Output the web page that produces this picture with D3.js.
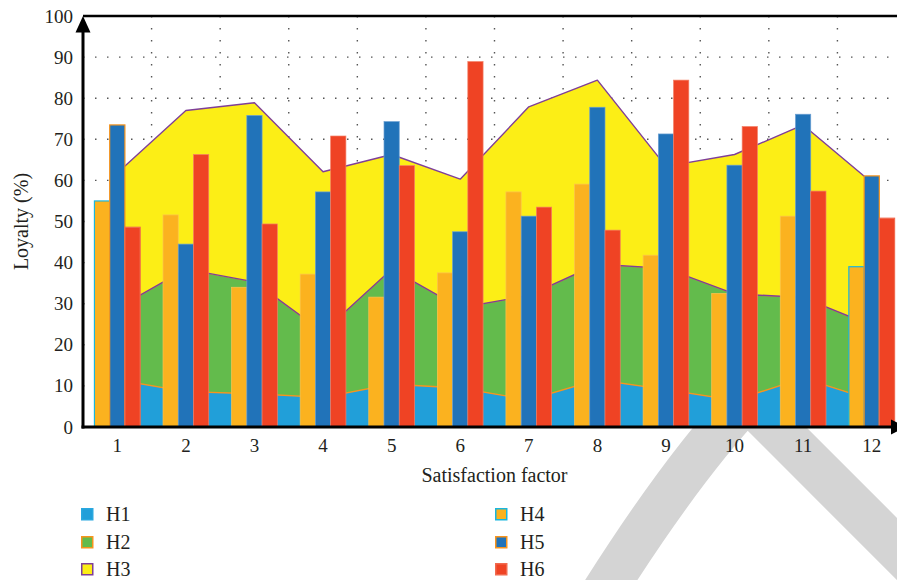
<!DOCTYPE html>
<html><head><meta charset="utf-8">
<script src="https://cdn.jsdelivr.net/npm/d3@7"></script>
<style>
html,body{margin:0;padding:0;background:#fff;}
svg{display:block;}
text{font-family:"Liberation Serif","Times New Roman",serif;fill:#231f20;}
</style>
</head><body>
<svg id="chart" width="897" height="580"></svg>
<script>
// ---------- data ----------
const categories = ["1","2","3","4","5","6","7","8","9","10","11","12"];
const areaSeries = ["H1","H2","H3"];
const barSeries = ["H4","H5","H6"];
const h1 = [11.5, 8.6, 8.1, 7.2, 10.4, 9.5, 6.6, 11.5, 9.1, 6.5, 11.9, 6.6];
const h2 = [17.4, 29.8, 27.2, 15.9, 28.0, 19.5, 25.4, 28.1, 29.5, 25.9, 19.6, 18.1];
const h3 = [32.9, 38.6, 43.6, 39.0, 27.9, 31.3, 45.9, 44.8, 24.8, 33.9, 42.0, 34.8];
const h4 = [55.0, 51.6, 34.0, 37.2, 31.6, 37.5, 57.2, 59.1, 41.8, 32.5, 51.3, 39.0];
const h5 = [73.5, 44.5, 75.8, 57.2, 74.3, 47.5, 51.3, 77.8, 71.3, 63.7, 76.1, 61.1];
const h6 = [48.6, 66.3, 49.4, 70.8, 63.6, 88.9, 53.5, 47.9, 84.4, 73.1, 57.4, 50.8];
const yTickValues = [0,10,20,30,40,50,60,70,80,90,100];
const xTitle = "Satisfaction factor";
const yTitle = "Loyalty (%)";

// ---------- styles ----------
const fills = {H1:"#219fd9", H2:"#63bb4c", H3:"#fcee16", H4:"#fbb21f", H5:"#2173b9", H6:"#ef4324"};
const edges = {H1:"#2aa8df", H2:"#f7941d", H3:"#7f3f98", H4:"#19b6de", H5:"#f7941d", H6:"#f16a4f"};
const softEdges = {H4:"#fcc350", H5:"#6a9fd2", H6:"#f47e64"};

const svg = d3.select("#chart");
const L = 83, R = 906, T = 16, B = 427;

const x = d3.scaleBand().domain(categories).range([L, R]).paddingInner(0).paddingOuter(0);
const bw = x.bandwidth();
const cx = c => x(c) + bw / 2;
const y = d3.scaleLinear().domain([0, 100]).range([B, T]);
const inner = d3.scaleBand().domain(barSeries).range([0, bw * 2 / 3]).padding(0);

// watermark (decorative)
svg.append("path")
  .attr("d", "M596,604 Q680,470 747,399 L962,614")
  .attr("fill", "none").attr("stroke", "#d4d4d4").attr("stroke-width", 44)
  .attr("stroke-linejoin", "miter");

// plot background
svg.append("rect").attr("x", L).attr("y", T).attr("width", R - L).attr("height", B - T).attr("fill", "#fff");

// grid
const grid = svg.append("g");
grid.selectAll("line.h").data(yTickValues.filter(v => v > 0 && v < 100)).join("line")
  .attr("x1", L).attr("x2", R).attr("y1", d => y(d)).attr("y2", d => y(d))
  .attr("stroke", "#555").attr("stroke-width", 1.4).attr("stroke-dasharray", "1.5,10.5");
grid.selectAll("line.v").data(categories.slice(1)).join("line")
  .attr("x1", d => x(d)).attr("x2", d => x(d)).attr("y1", T).attr("y2", B)
  .attr("stroke", "#555").attr("stroke-width", 1.4).attr("stroke-dasharray", "1.5,10.5");

// stacked areas
const rows = categories.map((c, i) => ({cat: c, H1: h1[i], H2: h2[i], H3: h3[i]}));
const stacked = d3.stack().keys(areaSeries)(rows);
const area = d3.area().x(d => cx(d.data.cat)).y0(d => y(d[0])).y1(d => y(d[1]));
svg.append("g").selectAll("path").data(stacked).join("path")
  .attr("d", area)
  .attr("fill", d => fills[d.key])
  .attr("stroke", d => edges[d.key])
  .attr("stroke-width", d => d.key === "H1" ? 0.8 : 1.4)
  .attr("stroke-linejoin", "round");

// grouped bars
const barVals = {H4: h4, H5: h5, H6: h6};
const barData = [];
categories.forEach((c, i) => barSeries.forEach(k => barData.push({cat: c, i, key: k, v: barVals[k][i]})));
svg.append("g").selectAll("rect").data(barData).join("rect")
  .attr("x", d => cx(d.cat) - bw / 3 + inner(d.key))
  .attr("width", inner.bandwidth())
  .attr("y", d => y(d.v))
  .attr("height", d => y(0) - y(d.v))
  .attr("fill", d => fills[d.key])
  .attr("stroke", d => (d.i === 0 || d.i === categories.length - 1) ? edges[d.key] : softEdges[d.key])
  .attr("stroke-width", d => (d.i === 0 || d.i === categories.length - 1) ? 1.2 : 0.7);

// axes
const ax = svg.append("g");
ax.append("line").attr("x1", L).attr("x2", R).attr("y1", T).attr("y2", T).attr("stroke", "#000").attr("stroke-width", 2.5);
ax.append("line").attr("x1", L).attr("x2", L).attr("y1", B + 1.5).attr("y2", T + 14).attr("stroke", "#000").attr("stroke-width", 3);
ax.append("line").attr("x1", L - 1.5).attr("x2", R - 14).attr("y1", B).attr("y2", B).attr("stroke", "#000").attr("stroke-width", 3);
ax.append("path").attr("d", `M${L - 7.5},${T + 16.5} L${L + 7.5},${T + 16.5} L${L},${T} Z`).attr("fill", "#000");
ax.append("path").attr("d", `M${R - 15},${B - 7.5} L${R - 15},${B + 7.5} L${R},${B} Z`).attr("fill", "#000");

// y tick labels
const yAxis = d3.axisLeft(y).tickValues(yTickValues).tickSize(0).tickPadding(10);
const gy = svg.append("g").attr("transform", `translate(${L},0)`).call(yAxis);
gy.select(".domain").remove();
gy.selectAll("text").attr("font-size", 19).attr("font-family", "Liberation Serif, serif").attr("fill", "#231f20");

// x tick labels
const xAxis = d3.axisBottom(x).tickSize(0).tickPadding(12);
const gx = svg.append("g").attr("transform", `translate(0,${B})`).call(xAxis);
gx.select(".domain").remove();
gx.selectAll("text").attr("font-size", 19).attr("font-family", "Liberation Serif, serif").attr("fill", "#231f20");

// titles
svg.append("text").attr("x", (L + R) / 2).attr("y", 482).attr("text-anchor", "middle").attr("font-size", 20).text(xTitle);
svg.append("text").attr("transform", `translate(28,${(T + B) / 2}) rotate(-90)`).attr("text-anchor", "middle").attr("font-size", 20).text(yTitle);

// legend
const legendItems = ["H1","H2","H3","H4","H5","H6"];
const lg = svg.append("g").selectAll("g").data(legendItems).join("g")
  .attr("transform", (d, i) => `translate(${i < 3 ? 81 : 495},${[514, 542, 569][i % 3]})`);
lg.append("rect").attr("x", 0.75).attr("y", -5.25).attr("width", 11).attr("height", 11)
  .attr("fill", d => fills[d]).attr("stroke", d => edges[d]).attr("stroke-width", 1.5);
lg.append("text").attr("x", 25).attr("dy", "0.35em").attr("font-size", 20).text(d => d);
</script>
</body></html>
